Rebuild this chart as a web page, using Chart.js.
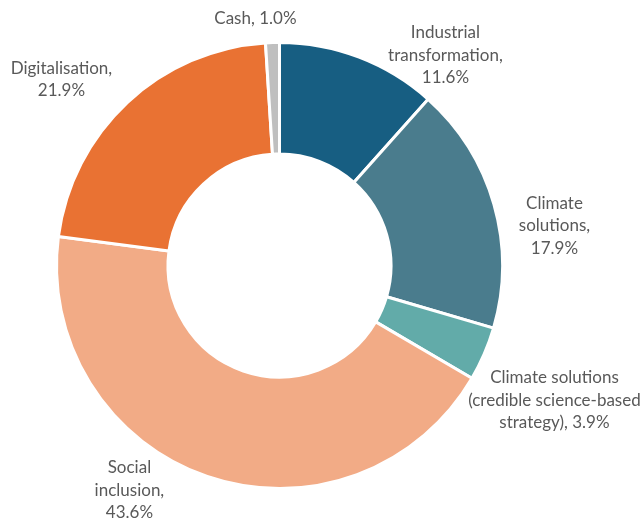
<!DOCTYPE html>
<html><head><meta charset="utf-8">
<script src="https://cdn.jsdelivr.net/npm/chart.js@4"></script>
<style>html,body{margin:0;padding:0;background:#fff}#wrap{width:643px;height:518px}</style>
</head><body><div id="wrap"><canvas id="c" width="643" height="518"></canvas></div>
<script>
const categories = ["Industrial transformation", "Climate solutions", "Climate solutions (credible science-based strategy)", "Social inclusion", "Digitalisation", "Cash"];
const values = [11.6, 17.9, 3.9, 43.6, 21.9, 1.0];
const colors = ["#175E82", "#4A7C8D", "#62ABA9", "#F2AB86", "#E97233", "#BFBFBF"];
const labelLines = [
  ["Industrial", "transformation,", "11.6%"],
  ["Climate", "solutions,", "17.9%"],
  ["Climate solutions", "(credible science-based", "strategy), 3.9%"],
  ["Social", "inclusion,", "43.6%"],
  ["Digitalisation,", "21.9%"],
  ["Cash, 1.0%"]
];
// label block centre, in units of outer radius from the doughnut centre
const labelPos = [[0.744,-0.942],[1.233,-0.179],[1.233,0.605],[-0.673,1.009],[-0.978,-0.834],[-0.108,-1.108]];

const labelPlugin = {
  id: 'outLabels',
  afterDatasetsDraw(chart) {
    const ctx = chart.ctx;
    const meta = chart.getDatasetMeta(0);
    const arc0 = meta.data[0];
    const cx = arc0.x, cy = arc0.y, R = arc0.outerRadius;
    ctx.save();
    ctx.font = '17px Lato, "Open Sans", sans-serif';
    ctx.fillStyle = '#595959';
    ctx.textAlign = 'center';
    ctx.textBaseline = 'middle';
    const lh = 22.5;
    labelLines.forEach((lines, i) => {
      const x = cx + labelPos[i][0] * R;
      const y = cy + labelPos[i][1] * R;
      const y0 = y - (lines.length - 1) * lh / 2;
      lines.forEach((t, j) => ctx.fillText(t, x, y0 + j * lh));
    });
    ctx.restore();
  }
};

new Chart(document.getElementById('c'), {
  type: 'doughnut',
  data: { labels: categories, datasets: [{ data: values, backgroundColor: colors, borderColor: '#ffffff', borderWidth: 3 }] },
  options: {
    responsive: false, animation: false, cutout: '50%',
    layout: { padding: { left: 55, top: 41, right: 139, bottom: 28 } },
    plugins: { legend: { display: false }, tooltip: { enabled: false } }
  },
  plugins: [labelPlugin]
});
</script></body></html>
